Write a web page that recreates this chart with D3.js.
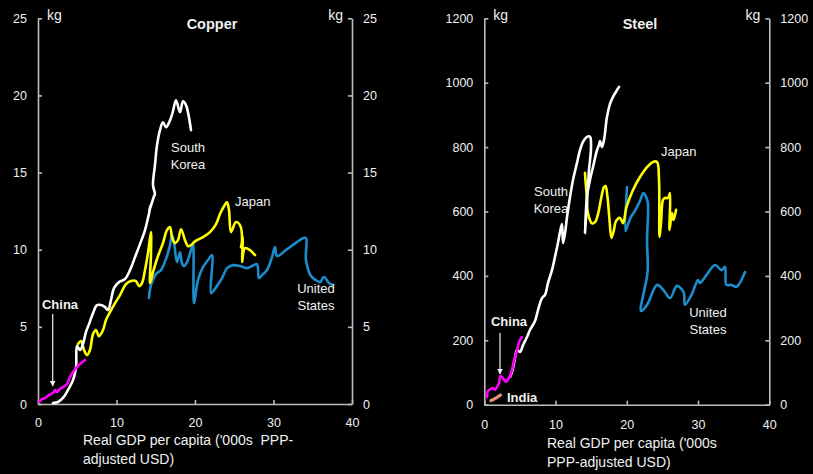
<!DOCTYPE html>
<html>
<head>
<meta charset="utf-8">
<script src="https://cdn.jsdelivr.net/npm/d3@7"></script>
<style>
  html, body { margin: 0; padding: 0; background: #000; }
  svg { display: block; font-family: Arial, "Liberation Sans", sans-serif; }
</style>
</head>
<body>
<svg id="chart" width="813" height="474"></svg>
<script>
// Intensity of use vs income: [real GDP per capita ('000s PPP USD), kg per capita]
const xTicks = [0, 10, 20, 30, 40];
const copperTicks = [0, 5, 10, 15, 20, 25];
const steelTicks = [0, 200, 400, 600, 800, 1000, 1200];

const copperSouthKorea = [
  [1.91,0.06],[2.55,0.13],[3.18,0.39],[3.82,0.91],[4.46,1.55],[4.84,2.33],[4.97,3.76],
  [5.35,3.50],[5.73,3.89],[6.11,4.66],[6.50,5.18],[7.01,5.89],[7.52,6.41],[8.03,6.41],
  [8.54,6.28],[8.92,6.09],[9.30,6.74],[9.68,7.51],[10.32,7.90],[11.08,8.10],[11.72,8.68],
  [12.36,9.52],[12.99,10.36],[13.63,11.27],[14.01,12.05],[14.39,12.95],[14.14,12.44],
  [14.78,13.47],[14.90,13.60],[14.65,14.18],[14.90,15.48],[15.16,16.77],[15.54,17.75],
  [15.92,18.26],[16.31,17.94],[16.82,18.39],[17.20,18.98],[17.58,19.69],[18.09,18.91],
  [18.47,19.62],[18.85,19.37],[19.49,17.75]
];
const copperJapan = [
  [5.10,3.89],[5.48,4.08],[5.86,3.50],[6.24,3.17],[6.62,3.50],[7.01,4.53],[7.39,4.79],
  [7.77,4.40],[8.28,4.79],[8.66,5.44],[9.17,5.96],[9.81,6.54],[10.45,7.06],[11.21,7.77],
  [11.85,7.97],[12.48,7.97],[12.87,7.64],[13.25,7.84],[13.63,8.68],[14.01,9.78],
  [14.39,11.14],[14.39,9.65],[14.27,7.84],[14.65,8.55],[15.29,9.59],[15.92,10.43],
  [16.43,11.27],[16.82,11.46],[17.07,10.82],[17.45,10.43],[17.83,10.62],[18.22,11.33],
  [18.73,10.62],[19.11,10.23],[19.49,10.30],[19.87,10.49],[20.25,10.62],[21.02,10.82],
  [21.91,11.14],[22.68,11.66],[23.18,12.31],[23.69,12.82],[24.08,13.08],[24.33,12.56],
  [24.59,11.14],[25.22,11.79],[25.73,11.59],[25.99,10.62],[25.86,10.17],[26.11,10.82],
  [25.99,9.20],[26.37,10.10],[27.01,9.97],[27.64,9.65]
];
const copperUnitedStates = [
  [14.14,6.87],[14.39,7.71],[15.03,8.42],[15.67,8.68],[16.05,9.07],[16.43,9.59],
  [16.82,10.30],[17.07,10.95],[17.32,10.49],[17.71,9.20],[18.09,9.84],[18.34,9.13],
  [18.60,8.94],[18.98,9.20],[19.49,9.97],[19.75,10.43],[19.87,6.54],[20.38,8.03],
  [21.02,8.87],[21.66,9.33],[22.17,9.65],[22.04,7.19],[22.42,7.38],[23.06,7.84],
  [23.57,8.29],[24.08,8.81],[24.84,9.00],[25.73,8.94],[26.62,8.81],[27.26,8.94],
  [27.90,9.07],[28.15,8.16],[28.66,8.42],[29.17,8.68],[29.81,9.52],[30.19,10.17],
  [30.45,9.59],[31.72,10.04],[32.99,10.49],[33.76,10.75],[34.14,10.75],[34.14,9.33],
  [34.78,8.29],[35.41,8.03],[35.92,7.90],[36.43,8.23],[37.07,7.84],[37.58,7.71]
];
const copperChina = [
  [0.13,0.13],[0.51,0.32],[0.89,0.39],[1.27,0.52],[1.66,0.65],[2.04,0.78],[2.17,0.91],
  [2.42,0.78],[2.80,0.97],[3.18,1.10],[3.69,1.30],[4.08,1.75],[4.46,2.07],[4.97,2.40],
  [5.35,2.59],[5.99,2.85]
];

const steelSouthKorea = [
  [3.61,86],[3.89,102],[4.31,145],[4.59,170],[5.01,164],[5.43,185],[5.99,210],[6.41,232],
  [7.12,260],[7.54,294],[8.10,331],[8.52,341],[8.94,378],[9.50,418],[9.92,459],[10.34,502],
  [10.62,536],[10.90,561],[11.05,502],[11.33,533],[11.61,583],[12.03,645],[12.45,698],
  [13.01,751],[13.43,791],[13.85,816],[14.41,832],[14.83,832],[14.98,800],[14.69,728],
  [14.41,626],[14.13,533],[14.41,645],[14.83,698],[15.26,738],[15.82,791],[16.10,807],
  [16.24,819],[16.52,800],[16.80,822],[17.22,894],[17.64,934],[18.06,956],[18.62,977],
  [18.91,987]
];
const steelJapan = [
  [14.13,720],[14.34,657],[14.55,595],[15.12,563],[15.54,567],[15.96,592],[16.38,639],
  [16.80,676],[17.01,679],[17.29,645],[17.57,574],[17.85,518],[18.20,543],[18.48,570],
  [19.05,580],[19.47,564],[19.96,614],[20.87,667],[21.85,707],[22.84,738],[23.68,754],
  [24.24,754],[24.52,698],[24.59,521],[24.80,564],[25.08,636],[25.36,642],[25.78,642],
  [26.06,657],[25.99,543],[26.34,595],[26.55,574],[26.91,605]
];
const steelUnitedStates = [
  [20.03,676],[19.82,539],[20.17,561],[20.59,583],[21.15,602],[21.85,633],[22.34,657],
  [22.77,642],[22.98,623],[22.84,512],[22.91,412],[21.99,291],[22.84,310],[24.24,372],
  [25.15,356],[26.06,331],[27.04,369],[27.96,350],[28.17,310],[29.08,341],[29.99,387],
  [30.27,378],[31.19,403],[32.38,434],[33.29,418],[33.78,428],[33.99,372],[34.69,372],
  [35.40,366],[36.59,412]
];
const steelChina = [
  [0.38,24],[0.52,43],[0.94,49],[1.22,52],[1.50,46],[1.78,55],[2.06,67],[2.27,89],
  [2.48,86],[2.77,77],[3.05,71],[3.33,80],[3.61,89],[3.89,108],[4.17,136],[4.45,157],
  [4.73,182],[5.01,201],[5.29,210]
];
const steelIndia = [[0.94,13],[1.50,19],[2.27,30]];

const colors = {
  korea: "#ffffff",
  japan: "#ffff00",
  us: "#1b8dcc",
  china: "#ff00ff",
  india: "#f08a7c",
  axis: "#bdbdbd",
  text: "#f0f0f0"
};

const svg = d3.select("#chart");
svg.append("rect").attr("width", 813).attr("height", 474).attr("fill", "#000");

svg.append("defs").append("marker")
  .attr("id", "arrowhead")
  .attr("viewBox", "0 0 10 10")
  .attr("refX", 9).attr("refY", 5)
  .attr("markerWidth", 5).attr("markerHeight", 5)
  .attr("orient", "auto")
  .append("path").attr("d", "M0,0L10,5L0,10Z").attr("fill", colors.text);

function drawPanel(cfg) {
  const x = d3.scaleLinear().domain([0, 40]).range([cfg.left, cfg.right]);
  const y = d3.scaleLinear().domain([0, cfg.yMax]).range([cfg.bottom, cfg.top]);
  const g = svg.append("g");
  const fmt = d3.format("d");

  const styleAxis = sel => {
    sel.selectAll("path, line").attr("stroke", colors.axis).attr("stroke-width", 1.6);
    sel.selectAll("text").attr("fill", colors.text).style("font-size", "12.5px")
      .attr("font-family", null);
  };

  g.append("g").attr("transform", `translate(${cfg.left},0)`)
    .call(d3.axisLeft(y).tickValues(cfg.yTicks).tickFormat(fmt)
      .tickSizeInner(-4).tickSizeOuter(0).tickPadding(11))
    .call(styleAxis);
  g.append("g").attr("transform", `translate(${cfg.right},0)`)
    .call(d3.axisRight(y).tickValues(cfg.yTicks).tickFormat(fmt)
      .tickSizeInner(-4).tickSizeOuter(0).tickPadding(11))
    .call(styleAxis);
  g.append("g").attr("transform", `translate(0,${cfg.bottom})`)
    .call(d3.axisBottom(x).tickValues(xTicks).tickFormat(fmt)
      .tickSizeInner(-4).tickSizeOuter(0).tickPadding(cfg.xPad))
    .call(styleAxis);

  // units
  g.append("text").attr("x", cfg.left + 9).attr("y", 20).text("kg")
    .attr("fill", colors.text).style("font-size", "14px");
  g.append("text").attr("x", cfg.right - 9).attr("y", 20).attr("text-anchor", "end").text("kg")
    .attr("fill", colors.text).style("font-size", "14px");

  // title
  g.append("text").attr("x", cfg.titleX).attr("y", 29).attr("text-anchor", "middle")
    .text(cfg.title).attr("fill", colors.text).style("font-size", "14.5px").style("font-weight", "bold");

  // x-axis title
  const xt = g.append("text").attr("x", cfg.xTitleX).attr("fill", colors.text)
    .style("font-size", "14px").style("white-space", "pre");
  cfg.xTitle.forEach((line, i) => {
    xt.append("tspan").attr("x", cfg.xTitleX).attr("y", cfg.xTitleY + i * 18.5).text(line);
  });

  const line = d3.line()
    .x(d => x(d[0])).y(d => y(d[1]))
    .curve(d3.curveCatmullRom.alpha(0.5));

  cfg.series.forEach(s => {
    g.append("path").datum(s.data)
      .attr("d", line)
      .attr("fill", "none")
      .attr("stroke", s.color)
      .attr("stroke-width", s.width || 2.6)
      .attr("stroke-linejoin", "round")
      .attr("stroke-linecap", "round");
  });

  cfg.labels.forEach(l => {
    const t = g.append("text").attr("fill", colors.text)
      .attr("text-anchor", l.anchor || "middle")
      .style("font-size", "13px")
      .style("font-weight", l.bold ? "bold" : "normal");
    l.lines.forEach((txt, i) => {
      t.append("tspan").attr("x", l.x).attr("y", l.y + i * 17).text(txt);
    });
  });

  // China pointer
  g.append("line")
    .attr("x1", cfg.arrow.x).attr("x2", cfg.arrow.x)
    .attr("y1", cfg.arrow.y1).attr("y2", cfg.arrow.y2)
    .attr("stroke", colors.text).attr("stroke-width", 1.2)
    .attr("marker-end", "url(#arrowhead)");
}

drawPanel({
  title: "Copper", titleX: 212,
  left: 38, right: 352, top: 18.3, bottom: 404,
  yMax: 25, yTicks: copperTicks, xPad: 14,
  xTitle: ["Real GDP per capita ('000s  PPP-", "adjusted USD)"], xTitleX: 83, xTitleY: 445,
  series: [
    { data: copperUnitedStates, color: colors.us },
    { data: copperJapan, color: colors.japan },
    { data: copperSouthKorea, color: colors.korea },
    { data: copperChina, color: colors.china }
  ],
  labels: [
    { lines: ["South", "Korea"], x: 188, y: 152 },
    { lines: ["Japan"], x: 235, y: 206, anchor: "start" },
    { lines: ["United", "States"], x: 316, y: 293 },
    { lines: ["China"], x: 60, y: 309, bold: true }
  ],
  arrow: { x: 52.7, y1: 314, y2: 386 }
});

drawPanel({
  title: "Steel", titleX: 640,
  left: 484.3, right: 769.3, top: 18.3, bottom: 404.7,
  yMax: 1200, yTicks: steelTicks, xPad: 15,
  xTitle: ["Real GDP per capita ('000s", "PPP-adjusted USD)"], xTitleX: 547, xTitleY: 448,
  series: [
    { data: steelUnitedStates, color: colors.us },
    { data: steelJapan, color: colors.japan },
    { data: steelSouthKorea, color: colors.korea },
    { data: steelChina, color: colors.china },
    { data: steelIndia, color: colors.india, width: 3.2 }
  ],
  labels: [
    { lines: ["South", "Korea"], x: 551, y: 196 },
    { lines: ["Japan"], x: 661, y: 156, anchor: "start" },
    { lines: ["United", "States"], x: 708, y: 317 },
    { lines: ["China"], x: 509, y: 326, bold: true },
    { lines: ["India"], x: 507, y: 402, bold: true, anchor: "start" }
  ],
  arrow: { x: 500, y1: 333, y2: 374 }
});
</script>
</body>
</html>
